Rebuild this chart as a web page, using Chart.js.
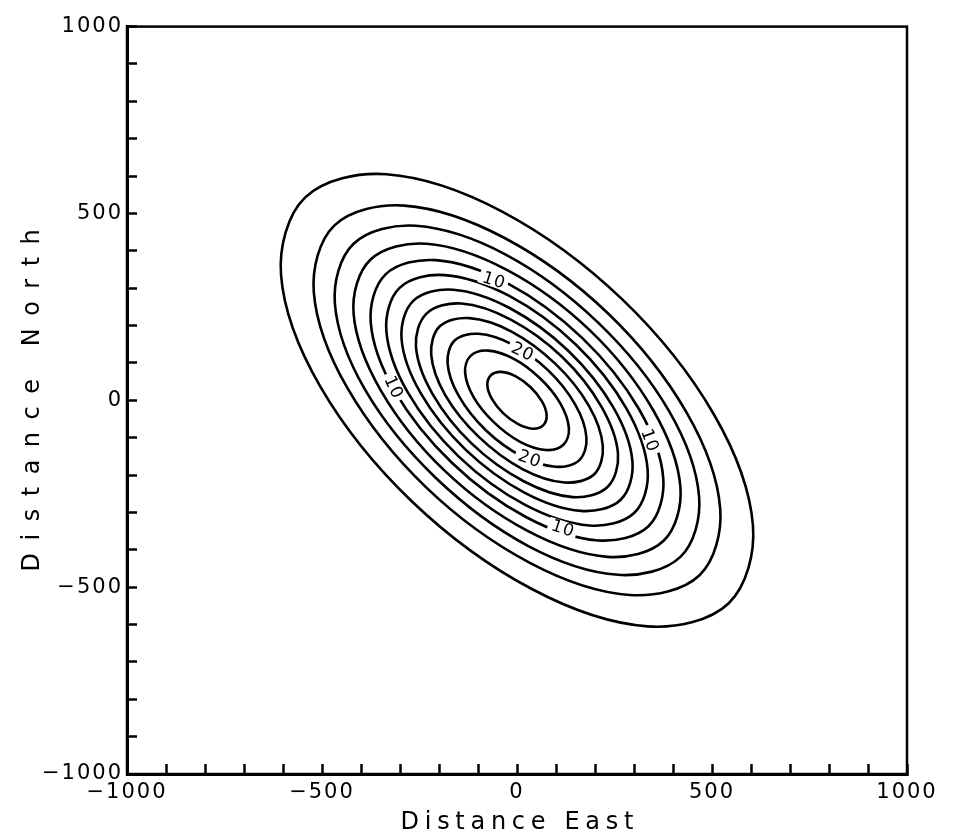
<!DOCTYPE html>
<html>
<head>
<meta charset="utf-8">
<script src="https://cdn.jsdelivr.net/npm/chart.js@4.4.1/dist/chart.umd.min.js"></script>
<style>
  html, body { margin: 0; padding: 0; background: #fff; }
  #wrap { width: 959px; height: 836px; }
</style>
</head>
<body>
<div id="wrap"><canvas id="contourChart"></canvas></div>
<script>
// contour levels, innermost first
const levels = [24, 22, 20, 18, 16, 14, 12, 10, 8, 6, 4, 2];

// contour lines, [east, north] pairs going round each ring
const c24 = [[67,-67],[76,-40],[64,-3],[35,35],[-3,64],[-40,76],[-67,67],[-76,40],[-64,3],[-35,-35],[3,-64],[40,-76]];
const c22 = [[119,-119],[133,-74],[111,-8],[59,59],[-8,111],[-74,133],[-119,119],[-133,74],[-111,8],[-59,-59],[8,-111],[74,-133]];
const c20 = [[160,-160],[178,-99],[149,-11],[80,80],[-11,149],[-99,178],[-160,160],[-178,99],[-149,11],[-80,-80],[11,-149],[99,-178]];
const c18 = [[198,-198],[220,-122],[184,-14],[98,98],[-14,184],[-122,220],[-198,198],[-220,122],[-184,14],[-98,-98],[14,-184],[122,-220]];
const c16 = [[232,-232],[259,-143],[216,-16],[116,116],[-16,216],[-143,259],[-232,232],[-259,143],[-216,16],[-116,-116],[16,-216],[143,-259]];
const c14 = [[266,-266],[296,-164],[247,-19],[132,132],[-19,247],[-164,296],[-266,266],[-296,164],[-247,19],[-132,-132],[19,-247],[164,-296]];
const c12 = [[301,-301],[335,-186],[280,-21],[150,150],[-21,280],[-186,335],[-301,301],[-335,186],[-280,21],[-150,-150],[21,-280],[186,-335]];
const c10 = [[337,-337],[375,-208],[313,-24],[167,167],[-24,313],[-208,375],[-337,337],[-375,208],[-313,24],[-167,-167],[24,-313],[208,-375]];
const c8  = [[376,-376],[419,-232],[349,-26],[187,187],[-26,349],[-232,419],[-376,376],[-419,232],[-349,26],[-187,-187],[26,-349],[232,-419]];
const c6  = [[419,-419],[467,-259],[390,-29],[208,208],[-29,390],[-259,467],[-419,419],[-467,259],[-390,29],[-208,-208],[29,-390],[259,-467]];
const c4  = [[468,-468],[521,-289],[435,-33],[233,233],[-33,435],[-289,521],[-468,468],[-521,289],[-435,33],[-233,-233],[33,-435],[289,-521]];
const c2  = [[543,-543],[605,-335],[505,-38],[270,270],[-38,505],[-335,605],[-543,543],[-605,335],[-505,38],[-270,-270],[38,-505],[335,-605]];

// inline contour labels: text and where they sit
const labelText = ["10", "10", "10", "10", "20", "20"];
const labelEast = [-60, 117, -316, 341, 14, 32];
const labelNorth = [322, -342, 36, -106, 131, -156];

// axis ticks
const labelledTicks = [-1000, -500, 0, 500, 1000];
const xTitle = "Distance East";
const yTitle = "Distance North";

const rings = [c24, c22, c20, c18, c16, c14, c12, c10, c8, c6, c4, c2];
const labelAngle = [18, 18, 65, 70, 25, 20];
const FONT = "DejaVu Sans";

function fmtTick(v) {
    if (!labelledTicks.includes(v)) return "";
    return v < 0 ? "\u2212" + Math.abs(v) : String(v);
}

// close each ring so the curve runs smoothly through the start point
const closeRings = {
    id: "closeRings",
    beforeDatasetDraw(chart, args) {
        const line = args.meta.dataset;
        if (!line) return;
        line._loop = true;
        line._fullLoop = true;
        line._pointsUpdated = false;
        line.updateControlPoints(chart.chartArea, "x");
        line._segments = undefined;
        line._path = undefined;
    }
};

const textSpacing = {
    id: "textSpacing",
    beforeDraw(chart) {
        chart.ctx.letterSpacing = "2px";
    }
};

const contourLabels = {
    id: "contourLabels",
    afterDatasetsDraw(chart) {
        const { ctx, scales } = chart;
        ctx.save();
        ctx.font = '17px "' + FONT + '"';
        ctx.letterSpacing = "1px";
        ctx.textAlign = "center";
        ctx.textBaseline = "middle";
        labelText.forEach((t, i) => {
            const px = scales.x.getPixelForValue(labelEast[i]);
            const py = scales.y.getPixelForValue(labelNorth[i]);
            ctx.save();
            ctx.translate(px, py);
            ctx.rotate(labelAngle[i] * Math.PI / 180);
            const w = ctx.measureText(t).width;
            ctx.fillStyle = "#fff";
            ctx.fillRect(-w / 2 - 3, -7, w + 6, 14);
            ctx.fillStyle = "#000";
            ctx.fillText(t, 0.5, 1);
            ctx.restore();
        });
        ctx.restore();
    }
};

function spacedText(ctx, text, cx, baseY, spacing) {
    ctx.letterSpacing = spacing + "px";
    const w = ctx.measureText(text).width - spacing;
    ctx.textAlign = "left";
    ctx.fillText(text, cx - w / 2, baseY);
}

const frameAndTitles = {
    id: "frameAndTitles",
    afterDraw(chart) {
        const { ctx, chartArea: a } = chart;
        ctx.save();
        ctx.strokeStyle = "#000";
        ctx.lineWidth = 2.5;
        ctx.strokeRect(a.left, a.top, a.right - a.left, a.bottom - a.top);
        ctx.fillStyle = "#000";
        ctx.font = '24px "' + FONT + '"';
        ctx.textBaseline = "alphabetic";
        spacedText(ctx, xTitle, (a.left + a.right) / 2, 829, 5.7);
        ctx.translate(39, (a.top + a.bottom) / 2);
        ctx.rotate(-Math.PI / 2);
        spacedText(ctx, yTitle, 0, 0, 12.5);
        ctx.restore();
    }
};

const axisCommon = {
    type: "linear",
    min: -1000,
    max: 1000,
    ticks: {
        stepSize: 100,
        autoSkip: false,
        maxRotation: 0,
        color: "#000",
        font: { family: FONT, size: 21 },
        callback: fmtTick
    },
    grid: {
        drawOnChartArea: false,
        drawTicks: true,
        tickLength: -10,
        tickWidth: 2.5,
        tickColor: "#000"
    },
    border: { display: true, color: "#000", width: 3 },
    title: { display: false }
};

new Chart(document.getElementById("contourChart"), {
    type: "scatter",
    data: {
        datasets: rings.map((ring, i) => ({
            label: String(levels[i]),
            data: ring.map(p => ({ x: p[0], y: p[1] })),
            showLine: true,
            borderColor: "#000",
            borderWidth: 2.6,
            pointRadius: 0,
            tension: 0.35,
            fill: false
        }))
    },
    options: {
        responsive: true,
        maintainAspectRatio: false,
        animation: false,
        layout: { padding: { top: 19, right: 52, bottom: 0, left: 0 } },
        plugins: {
            legend: { display: false },
            tooltip: { enabled: false }
        },
        scales: {
            x: Object.assign({}, axisCommon, {
                position: "bottom",
                ticks: Object.assign({}, axisCommon.ticks, { padding: 16 }),
                afterFit: s => { s.height = 62; }
            }),
            y: Object.assign({}, axisCommon, {
                position: "left",
                ticks: Object.assign({}, axisCommon.ticks, { padding: 14 }),
                afterFit: s => { s.width = 127; }
            })
        }
    },
    plugins: [closeRings, textSpacing, contourLabels, frameAndTitles]
});
</script>
</body>
</html>
